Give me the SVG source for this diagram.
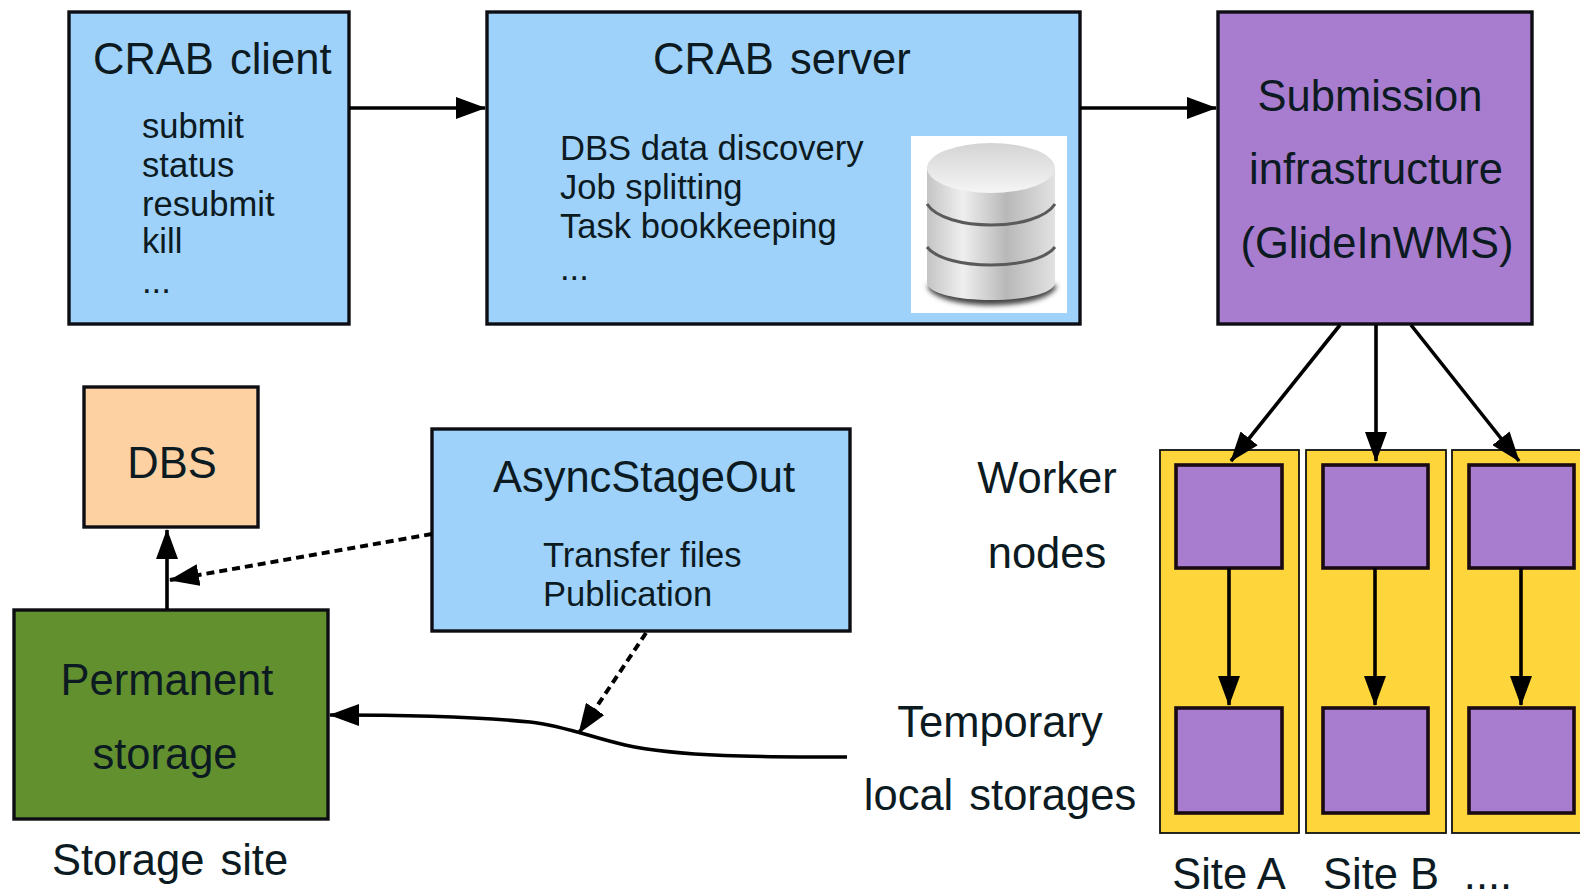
<svg xmlns="http://www.w3.org/2000/svg" width="1580" height="894" viewBox="0 0 1580 894">
<style>
text{font-family:"Liberation Sans",Arial,sans-serif;fill:#0c1a22}
.t{font-size:43.5px}
.s{font-size:34.6px}
.w{word-spacing:4px}
.box{stroke:#0d0d14;stroke-width:3.4}
.blue{fill:#9fd2fb}
.pur{fill:#a87ccf}
.wn{fill:#a87ccf;stroke:#1a0a14;stroke-width:3.6}
.site{fill:#fed63c;stroke:#111;stroke-width:1.8}
.c{fill:none;stroke:#000;stroke-width:3.6}
.d{fill:none;stroke:#000;stroke-width:4;stroke-dasharray:8 5}
</style>
<defs>
<marker id="a" viewBox="0 0 30 22" refX="29" refY="11" markerWidth="30" markerHeight="22" markerUnits="userSpaceOnUse" orient="auto"><path d="M0 0L30 11L0 22z" fill="#000"/></marker>
<linearGradient id="cyl" x1="0" x2="1" y1="0" y2="0"><stop offset="0" stop-color="#c4c4c4"/><stop offset=".28" stop-color="#efefef"/><stop offset=".62" stop-color="#b8b8b8"/><stop offset="1" stop-color="#e2e2e2"/></linearGradient>
<linearGradient id="top" x1="0" x2="0" y1="0" y2="1"><stop offset="0" stop-color="#d4d4d4"/><stop offset="1" stop-color="#f5f5f5"/></linearGradient>
<filter id="b" x="-20%" y="-50%" width="140%" height="200%"><feGaussianBlur stdDeviation="2.5"/></filter>
</defs>
<rect width="1580" height="894" fill="#fff"/>
<g id="crab-client"><rect class="box blue" x="69" y="12" width="280" height="312"/>
<text class="t w" x="93" y="74">CRAB client</text>
<text class="s" x="142" y="138">submit</text><text class="s" x="142" y="177">status</text><text class="s" x="142" y="216">resubmit</text><text class="s" x="142" y="253">kill</text><text class="s" x="142" y="293">...</text></g>
<g id="crab-server"><rect class="box blue" x="487" y="12" width="593" height="312"/>
<text class="t w" x="653" y="74">CRAB server</text>
<text class="s" x="560" y="160">DBS data discovery</text><text class="s" x="560" y="199">Job splitting</text><text class="s" x="560" y="238">Task bookkeeping</text><text class="s" x="560" y="280">...</text>
<rect x="911" y="136" width="156" height="177" fill="#fff"/>
<path d="M927 285C932 312 1052 312 1057 285z" fill="#444" filter="url(#b)"/>
<path d="M927 168V282C927 306 1055 306 1055 282V168z" fill="url(#cyl)"/>
<ellipse cx="991" cy="168" rx="64" ry="25" fill="url(#top)"/>
<path d="M927 204C945 232 1037 232 1055 204M927 247C945 271 1037 271 1055 247" fill="none" stroke="#5a5a5a" stroke-width="3"/></g>
<g id="submission"><rect class="box pur" x="1218" y="12" width="314" height="312"/>
<text class="t" x="1370" y="111" text-anchor="middle">Submission</text><text class="t" x="1376" y="184" text-anchor="middle">infrastructure</text><text class="t" x="1377" y="258" text-anchor="middle">(GlideInWMS)</text></g>
<g id="dbs"><rect class="box" fill="#fdd1a2" x="84" y="387" width="174" height="140"/><text class="t" x="172" y="478" text-anchor="middle">DBS</text></g>
<g id="asyncstageout"><rect class="box blue" x="432" y="429" width="418" height="202"/>
<text class="t" x="644" y="492" text-anchor="middle">AsyncStageOut</text>
<text class="s" x="543" y="567">Transfer files</text><text class="s" x="543" y="606">Publication</text></g>
<g id="permanent"><rect class="box" fill="#63902f" x="14" y="610" width="314" height="209"/>
<text class="t" x="167" y="695" text-anchor="middle">Permanent</text><text class="t" x="165" y="769" text-anchor="middle">storage</text></g>
<g id="site-a"><rect class="site" x="1160" y="450" width="139" height="383"/><rect class="wn" x="1176" y="465" width="106" height="103"/><rect class="wn" x="1176" y="708" width="106" height="105"/></g>
<g id="site-b"><rect class="site" x="1306" y="450" width="140" height="383"/><rect class="wn" x="1323" y="465" width="105" height="103"/><rect class="wn" x="1323" y="708" width="105" height="105"/></g>
<g id="site-c"><rect class="site" x="1452" y="450" width="132" height="383"/><rect class="wn" x="1469" y="465" width="105" height="103"/><rect class="wn" x="1469" y="708" width="105" height="105"/></g>
<g id="labels">
<text class="t" x="1047" y="493" text-anchor="middle">Worker</text><text class="t" x="1047" y="568" text-anchor="middle">nodes</text>
<text class="t" x="1000" y="737" text-anchor="middle">Temporary</text><text class="t w" x="1000" y="810" text-anchor="middle">local storages</text>
<text class="t w" x="52" y="875">Storage site</text>
<text class="t" x="1229" y="889" text-anchor="middle">Site A</text><text class="t" x="1381" y="889" text-anchor="middle">Site B</text><text class="t" x="1488" y="889" text-anchor="middle">....</text></g>
<g id="connectors">
<path class="c" marker-end="url(#a)" d="M349 108H485"/>
<path class="c" marker-end="url(#a)" d="M1080 108H1216"/>
<path class="c" marker-end="url(#a)" d="M1340 325L1231 461"/>
<path class="c" marker-end="url(#a)" d="M1376 325V461"/>
<path class="c" marker-end="url(#a)" d="M1411 325L1519 461"/>
<path class="c" marker-end="url(#a)" d="M1229 568V705"/>
<path class="c" marker-end="url(#a)" d="M1375 568V705"/>
<path class="c" marker-end="url(#a)" d="M1521 568V705"/>
<path class="c" marker-end="url(#a)" d="M167 610V530"/>
<path class="d" marker-end="url(#a)" d="M432 534L170 580"/>
<path class="d" marker-end="url(#a)" d="M646 633L579 733"/>
<path class="c" marker-end="url(#a)" d="M847 757C760 757 680 757 625 745C590 737 565 726 530 722C480 717 420 715 330 715"/>
</g>
</svg>
